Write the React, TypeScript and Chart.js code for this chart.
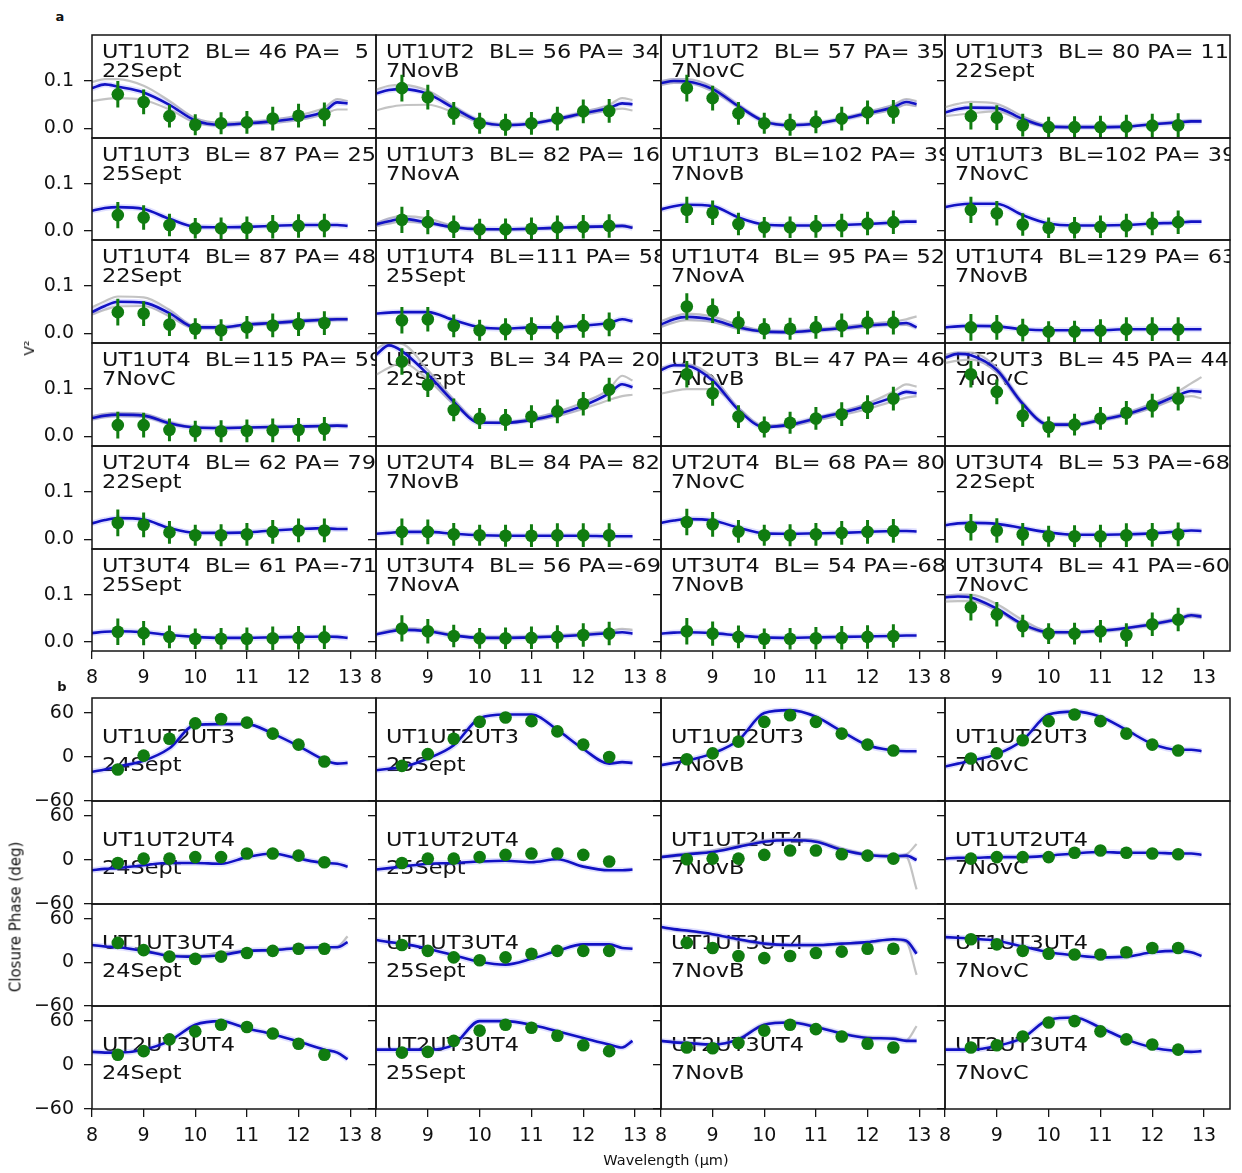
import React, { useEffect, useRef } from "react";
import { Chart, registerables } from "chart.js";

Chart.register(...registerables);

const FONT = "'DejaVu Sans', 'Liberation Sans', sans-serif";

// ---------------- data ----------------
const OBS_X = [8.5, 9, 9.5, 10, 10.5, 11, 11.5, 12, 12.5];
const MODEL_X = [8.0, 8.25, 8.5, 9.0, 9.5, 10.0, 10.5, 11.0, 11.5, 12.0, 12.5, 12.75, 12.95];
const X_TICKS = [8, 9, 10, 11, 12, 13];
const X_TICK_LABELS = ["8", "9", "10", "11", "12", "13"];
const V2_TICKS = [0, 0.1];
const V2_TICK_LABELS = ["0.0", "0.1"];
const CP_TICKS = [-60, 0, 60];
const CP_TICK_LABELS = ["\u221260", "0", "60"];

const V2_BASELINES = [
  "UT1UT2  BL= 46 PA=  5", "UT1UT2  BL= 56 PA= 34", "UT1UT2  BL= 57 PA= 35", "UT1UT3  BL= 80 PA= 11",
  "UT1UT3  BL= 87 PA= 25", "UT1UT3  BL= 82 PA= 16", "UT1UT3  BL=102 PA= 39", "UT1UT3  BL=102 PA= 39",
  "UT1UT4  BL= 87 PA= 48", "UT1UT4  BL=111 PA= 58", "UT1UT4  BL= 95 PA= 52", "UT1UT4  BL=129 PA= 63",
  "UT1UT4  BL=115 PA= 59", "UT2UT3  BL= 34 PA= 20", "UT2UT3  BL= 47 PA= 46", "UT2UT3  BL= 45 PA= 44",
  "UT2UT4  BL= 62 PA= 79", "UT2UT4  BL= 84 PA= 82", "UT2UT4  BL= 68 PA= 80", "UT3UT4  BL= 53 PA=-68",
  "UT3UT4  BL= 61 PA=-71", "UT3UT4  BL= 56 PA=-69", "UT3UT4  BL= 54 PA=-68", "UT3UT4  BL= 41 PA=-60",
];
const V2_NIGHTS = [
  "22Sept", "7NovB", "7NovC", "22Sept",
  "25Sept", "7NovA", "7NovB", "7NovC",
  "22Sept", "25Sept", "7NovA", "7NovB",
  "7NovC", "22Sept", "7NovB", "7NovC",
  "22Sept", "7NovB", "7NovC", "22Sept",
  "25Sept", "7NovA", "7NovB", "7NovC",
];
const V2_OBS = [
  [0.072, 0.056, 0.026, 0.008, 0.011, 0.013, 0.021, 0.027, 0.030],
  [0.085, 0.066, 0.032, 0.011, 0.008, 0.011, 0.021, 0.036, 0.037],
  [0.085, 0.064, 0.032, 0.011, 0.008, 0.014, 0.021, 0.034, 0.035],
  [0.026, 0.023, 0.007, 0.003, 0.003, 0.003, 0.004, 0.006, 0.007],
  [0.033, 0.028, 0.012, 0.005, 0.005, 0.006, 0.008, 0.010, 0.011],
  [0.023, 0.018, 0.008, 0.003, 0.003, 0.004, 0.007, 0.008, 0.010],
  [0.044, 0.038, 0.014, 0.007, 0.007, 0.009, 0.011, 0.015, 0.018],
  [0.044, 0.037, 0.013, 0.006, 0.006, 0.008, 0.011, 0.015, 0.018],
  [0.045, 0.042, 0.019, 0.010, 0.007, 0.013, 0.017, 0.020, 0.022],
  [0.028, 0.030, 0.016, 0.007, 0.009, 0.010, 0.013, 0.016, 0.019],
  [0.057, 0.048, 0.023, 0.010, 0.010, 0.013, 0.017, 0.023, 0.023],
  [0.013, 0.013, 0.007, 0.004, 0.004, 0.006, 0.009, 0.009, 0.009],
  [0.024, 0.024, 0.014, 0.011, 0.011, 0.012, 0.013, 0.014, 0.016],
  [0.158, 0.109, 0.056, 0.038, 0.035, 0.042, 0.053, 0.069, 0.099],
  [0.131, 0.091, 0.042, 0.020, 0.029, 0.038, 0.047, 0.062, 0.080],
  [0.131, 0.094, 0.044, 0.020, 0.025, 0.038, 0.050, 0.065, 0.080],
  [0.035, 0.031, 0.015, 0.009, 0.009, 0.011, 0.016, 0.019, 0.019],
  [0.016, 0.016, 0.011, 0.009, 0.008, 0.008, 0.009, 0.009, 0.009],
  [0.037, 0.032, 0.017, 0.009, 0.009, 0.011, 0.014, 0.016, 0.018],
  [0.026, 0.019, 0.011, 0.007, 0.007, 0.007, 0.009, 0.010, 0.011],
  [0.021, 0.018, 0.010, 0.006, 0.006, 0.006, 0.007, 0.008, 0.009],
  [0.028, 0.022, 0.012, 0.007, 0.007, 0.008, 0.010, 0.014, 0.017],
  [0.022, 0.017, 0.010, 0.006, 0.006, 0.007, 0.008, 0.010, 0.012],
  [0.073, 0.058, 0.033, 0.017, 0.017, 0.022, 0.014, 0.037, 0.047],
];
const V2_ERR = [0.028, 0.026, 0.024, 0.022, 0.023, 0.024, 0.025, 0.025, 0.025];
const V2_MODEL = [
  [0.085, 0.093, 0.088, 0.076, 0.050, 0.017, 0.008, 0.011, 0.015, 0.022, 0.036, 0.055, 0.053],
  [0.074, 0.081, 0.083, 0.073, 0.043, 0.015, 0.007, 0.010, 0.020, 0.032, 0.043, 0.053, 0.051],
  [0.096, 0.100, 0.099, 0.083, 0.047, 0.015, 0.007, 0.010, 0.020, 0.032, 0.045, 0.056, 0.051],
  [0.034, 0.041, 0.044, 0.043, 0.020, 0.004, 0.003, 0.003, 0.004, 0.009, 0.013, 0.015, 0.015],
  [0.042, 0.048, 0.050, 0.046, 0.025, 0.008, 0.007, 0.008, 0.010, 0.012, 0.012, 0.012, 0.010],
  [0.013, 0.020, 0.025, 0.017, 0.007, 0.003, 0.003, 0.004, 0.006, 0.008, 0.009, 0.010, 0.006],
  [0.045, 0.052, 0.055, 0.052, 0.028, 0.013, 0.011, 0.011, 0.012, 0.014, 0.017, 0.019, 0.019],
  [0.050, 0.055, 0.057, 0.057, 0.033, 0.015, 0.011, 0.011, 0.012, 0.015, 0.017, 0.019, 0.019],
  [0.045, 0.058, 0.067, 0.065, 0.043, 0.013, 0.013, 0.019, 0.022, 0.026, 0.029, 0.030, 0.030],
  [0.042, 0.044, 0.045, 0.045, 0.028, 0.013, 0.010, 0.013, 0.013, 0.017, 0.022, 0.030, 0.026],
  [0.019, 0.030, 0.035, 0.029, 0.013, 0.004, 0.003, 0.007, 0.011, 0.017, 0.020, 0.022, 0.013],
  [0.013, 0.015, 0.016, 0.015, 0.009, 0.007, 0.007, 0.007, 0.009, 0.009, 0.009, 0.009, 0.009],
  [0.039, 0.044, 0.046, 0.044, 0.028, 0.019, 0.018, 0.019, 0.020, 0.021, 0.022, 0.023, 0.022],
  [0.172, 0.192, 0.180, 0.131, 0.073, 0.029, 0.029, 0.035, 0.047, 0.065, 0.091, 0.110, 0.104],
  [0.140, 0.150, 0.149, 0.118, 0.056, 0.020, 0.025, 0.038, 0.050, 0.065, 0.083, 0.094, 0.091],
  [0.166, 0.174, 0.171, 0.140, 0.069, 0.025, 0.025, 0.035, 0.047, 0.065, 0.087, 0.096, 0.094],
  [0.034, 0.041, 0.045, 0.042, 0.024, 0.014, 0.014, 0.015, 0.019, 0.022, 0.024, 0.022, 0.022],
  [0.012, 0.014, 0.016, 0.016, 0.012, 0.009, 0.008, 0.008, 0.008, 0.008, 0.007, 0.007, 0.007],
  [0.035, 0.040, 0.043, 0.040, 0.025, 0.013, 0.012, 0.013, 0.014, 0.016, 0.018, 0.018, 0.017],
  [0.030, 0.034, 0.035, 0.033, 0.024, 0.015, 0.010, 0.010, 0.011, 0.013, 0.017, 0.019, 0.018],
  [0.018, 0.021, 0.022, 0.020, 0.014, 0.010, 0.008, 0.008, 0.009, 0.010, 0.011, 0.010, 0.008],
  [0.015, 0.021, 0.025, 0.022, 0.013, 0.008, 0.008, 0.009, 0.011, 0.014, 0.018, 0.020, 0.017],
  [0.017, 0.019, 0.020, 0.018, 0.013, 0.009, 0.008, 0.009, 0.010, 0.011, 0.012, 0.013, 0.013],
  [0.094, 0.096, 0.094, 0.070, 0.037, 0.020, 0.020, 0.023, 0.029, 0.037, 0.048, 0.056, 0.053],
];
const V2_GRAY_HI = [
  [0.098, 0.104, 0.104, 0.090, 0.058, 0.022, 0.012, 0.014, 0.019, 0.028, 0.044, 0.062, 0.058],
  [0.082, 0.090, 0.092, 0.080, 0.047, 0.017, 0.009, 0.012, 0.022, 0.035, 0.050, 0.064, 0.060],
  [0.100, 0.104, 0.104, 0.088, 0.050, 0.017, 0.009, 0.012, 0.022, 0.035, 0.050, 0.062, 0.058],
  [0.045, 0.052, 0.056, 0.052, 0.026, 0.006, 0.004, 0.004, 0.005, 0.010, 0.015, 0.017, 0.017],
  null,
  [0.016, 0.026, 0.031, 0.026, 0.010, 0.004, 0.003, 0.005, 0.007, 0.009, 0.010, 0.011, 0.008],
  null, null,
  [0.055, 0.068, 0.078, 0.076, 0.050, 0.015, 0.014, 0.020, 0.024, 0.028, 0.031, 0.032, 0.032],
  null,
  [0.026, 0.036, 0.042, 0.036, 0.018, 0.006, 0.005, 0.009, 0.014, 0.020, 0.025, 0.030, 0.036],
  null,
  [0.043, 0.048, 0.050, 0.048, 0.031, 0.020, 0.019, 0.020, 0.021, 0.022, 0.023, 0.024, 0.023],
  [0.185, 0.197, 0.195, 0.140, 0.078, 0.032, 0.030, 0.038, 0.052, 0.072, 0.100, 0.128, 0.118],
  [0.145, 0.150, 0.152, 0.125, 0.060, 0.023, 0.027, 0.040, 0.053, 0.070, 0.095, 0.110, 0.105],
  [0.172, 0.177, 0.177, 0.145, 0.072, 0.027, 0.027, 0.037, 0.050, 0.070, 0.095, 0.112, 0.125],
  null, null, null, null, null,
  [0.017, 0.024, 0.028, 0.025, 0.015, 0.010, 0.010, 0.011, 0.013, 0.017, 0.022, 0.027, 0.025],
  null,
  [0.097, 0.100, 0.100, 0.080, 0.046, 0.022, 0.021, 0.024, 0.030, 0.039, 0.050, 0.058, 0.056],
];
const V2_GRAY_LO = [
  [0.058, 0.062, 0.064, 0.060, 0.040, 0.012, 0.006, 0.009, 0.012, 0.018, 0.030, 0.040, 0.040],
  [0.038, 0.045, 0.049, 0.050, 0.034, 0.013, 0.006, 0.009, 0.018, 0.029, 0.038, 0.042, 0.038],
  [0.092, 0.096, 0.096, 0.078, 0.045, 0.013, 0.006, 0.009, 0.018, 0.029, 0.040, 0.050, 0.047],
  [0.026, 0.029, 0.032, 0.036, 0.016, 0.003, 0.002, 0.002, 0.004, 0.008, 0.012, 0.014, 0.014],
  null,
  [0.010, 0.015, 0.019, 0.015, 0.006, 0.002, 0.002, 0.003, 0.005, 0.007, 0.008, 0.009, 0.005],
  null, null,
  [0.040, 0.050, 0.057, 0.058, 0.036, 0.011, 0.011, 0.017, 0.020, 0.024, 0.027, 0.028, 0.028],
  null,
  [0.014, 0.023, 0.028, 0.024, 0.010, 0.003, 0.002, 0.005, 0.009, 0.014, 0.018, 0.018, 0.012],
  null,
  [0.036, 0.041, 0.043, 0.041, 0.026, 0.018, 0.017, 0.018, 0.019, 0.020, 0.021, 0.022, 0.021],
  [0.130, 0.145, 0.155, 0.120, 0.068, 0.030, 0.028, 0.033, 0.043, 0.058, 0.077, 0.085, 0.088],
  [0.090, 0.096, 0.100, 0.100, 0.060, 0.020, 0.022, 0.034, 0.045, 0.058, 0.074, 0.082, 0.085],
  [0.155, 0.160, 0.162, 0.135, 0.066, 0.023, 0.023, 0.033, 0.044, 0.060, 0.080, 0.085, 0.080],
  null, null, null, null, null, null, null,
  [0.085, 0.086, 0.086, 0.066, 0.034, 0.018, 0.018, 0.021, 0.027, 0.035, 0.046, 0.053, 0.050],
];

const CP_TRIANGLES = ["UT1UT2UT3", "UT1UT2UT4", "UT1UT3UT4", "UT2UT3UT4"];
const CP_NIGHTS = ["24Sept", "25Sept", "7NovB", "7NovC"];
const CP_OBS = [
  [-17, 2, 25, 46, 52, 47, 32, 17, -6],
  [-12, 4, 25, 48, 54, 49, 35, 17, 0],
  [-3, 5, 21, 48, 57, 48, 32, 17, 9],
  [-2, 5, 23, 49, 58, 49, 32, 17, 9],
  [-4, 2, 2, 4, 4, 9, 9, 6, -3],
  [-4, 2, 2, 4, 7, 9, 9, 7, -2],
  [1, 2, 2, 7, 13, 13, 8, 6, 2],
  [2, 4, 4, 4, 10, 13, 10, 9, 8],
  [27, 17, 8, 5, 8, 13, 16, 19, 19],
  [24, 16, 7, 3, 7, 12, 16, 16, 16],
  [27, 20, 9, 6, 9, 13, 15, 19, 19],
  [32, 25, 16, 12, 11, 11, 14, 20, 20],
  [14, 19, 35, 46, 55, 52, 43, 29, 14],
  [17, 18, 33, 47, 55, 51, 40, 27, 19],
  [24, 23, 30, 47, 55, 49, 39, 29, 24],
  [24, 27, 39, 58, 60, 46, 35, 28, 21],
];
const CP_MODEL = [
  [-20, -17, -13, -5, 12, 44, 45, 45, 32, 15, -4, -9, -8],
  [-18, -16, -14, -2, 16, 53, 58, 58, 37, 11, -9, -7, -8],
  [-11, -8, -5, 5, 23, 60, 64, 55, 35, 16, 9, 8, 8],
  [-13, -9, -5, 4, 23, 58, 62, 55, 37, 18, 10, 10, 8],
  [-14, -12, -11, -7, -4, -4, -5, 4, 9, 2, -4, -5, -9],
  [-13, -11, -9, -5, -4, -2, -1, -3, 1, -9, -14, -14, -13],
  [4, 6, 8, 11, 18, 25, 27, 25, 14, 7, 5, 6, 0],
  [2, 3, 3, 4, 4, 6, 9, 11, 10, 10, 9, 9, 7],
  [24, 22, 21, 16, 9, 8, 10, 16, 17, 20, 21, 21, 28],
  [31, 28, 26, 19, 10, 1, -3, 5, 16, 25, 25, 20, 19],
  [49, 46, 44, 39, 32, 26, 24, 24, 26, 28, 32, 30, 12],
  [35, 34, 33, 30, 22, 14, 10, 7, 8, 14, 16, 14, 9],
  [18, 17, 17, 21, 33, 55, 60, 50, 42, 32, 21, 17, 8],
  [21, 21, 21, 21, 28, 60, 60, 55, 46, 37, 28, 24, 33],
  [33, 31, 30, 28, 35, 55, 58, 52, 43, 37, 36, 33, 33],
  [21, 21, 21, 26, 37, 62, 65, 51, 35, 24, 19, 18, 19],
];
const CP_GRAY_HI = [
  null, null, null, null, null, null,
  [5, 7, 9, 13, 20, 27, 29, 27, 16, 8, 6, 8, 22],
  null,
  [24, 22, 21, 17, 10, 9, 14, 16, 18, 20, 21, 22, 36],
  null,
  [48, 46, 44, 39, 32, 26, 24, 24, 26, 28, 32, 30, 14],
  null, null, null,
  [33, 32, 31, 28, 36, 56, 59, 53, 44, 38, 37, 34, 53],
  null,
];
const CP_GRAY_LO = [
  null, null, null, null, null, null,
  [4, 5, 7, 11, 18, 25, 27, 25, 14, 6, 5, 4, -40],
  null, null, null,
  [48, 45, 43, 38, 31, 25, 23, 23, 25, 27, 31, 28, -17],
  null, null, null, null, null,
];

// ---------------- layout & style ----------------
const COL_EDGES = [92, 376, 661, 945, 1230];
const ROW_A_EDGES = [35, 138, 240, 343, 446, 549, 651];
const ROW_B_EDGES = [698, 801, 904, 1006, 1109];
const V2_RANGE = [-0.02, 0.197];
const CP_RANGE = [-60, 80.6];

const GREEN = "#107c10";
const BLUE = "#1212c4";
const HALO = "rgba(100,100,255,0.2)";
const GRAY = "rgba(188,188,188,0.9)";
const AXIS = "#151515";
const TXT = "#111111";

type Line = { text: string; dy: number };

function buildDatasets(obs: number[], err: number[] | null, model: number[], hi: number[] | null, lo: number[] | null) {
  const pts = OBS_X.map((x, i) => ({ x, y: obs[i] }));
  const mdl = MODEL_X.map((x, i) => ({ x, y: model[i] }));
  const ds: any[] = [
    { data: pts, showLine: false, pointRadius: 6.3, pointBackgroundColor: GREEN, pointBorderColor: GREEN, pointBorderWidth: 0, clip: 0 },
  ];
  if (err) {
    ds.push({
      data: OBS_X.flatMap((x, i) => [{ x, y: obs[i] - err[i] }, { x, y: obs[i] + err[i] }, { x, y: null }]),
      borderColor: GREEN, borderWidth: 3, pointRadius: 0, spanGaps: false, clip: 0,
    });
  }
  ds.push({ data: mdl, borderColor: BLUE, borderWidth: 2.6, pointRadius: 0, cubicInterpolationMode: "monotone", borderJoinStyle: "round", clip: 0 });
  ds.push({ data: mdl, borderColor: HALO, borderWidth: 6, pointRadius: 0, cubicInterpolationMode: "monotone", borderJoinStyle: "round", clip: 0 });
  for (const g of [hi, lo]) {
    if (g) ds.push({ data: MODEL_X.map((x, i) => ({ x, y: g[i] })), borderColor: GRAY, borderWidth: 2.2, pointRadius: 0, cubicInterpolationMode: "monotone", clip: 0 });
  }
  return ds;
}

type PanelProps = {
  col: number; top: number; bottom: number; lastRow: boolean;
  range: number[]; yTicks: number[]; yLabels: string[];
  lines: Line[]; datasets: any[];
};

function Panel(p: PanelProps) {
  const ref = useRef<HTMLCanvasElement>(null);
  const padL = p.col === 0 ? COL_EDGES[0] : 8;
  const padT = 3, padR = 3;
  const padB = p.lastRow ? 46 : 14;
  const plotW = COL_EDGES[p.col + 1] - COL_EDGES[p.col];
  const plotH = p.bottom - p.top;
  const W = padL + plotW + padR;
  const H = padT + plotH + padB;
  const left = COL_EDGES[p.col] - padL;
  const top = p.top - padT;

  useEffect(() => {
    if (!ref.current) return;
    const deco = {
      id: "panelDeco",
      beforeDatasetsDraw(chart: any) {
        const { ctx, chartArea: a } = chart;
        ctx.save();
        ctx.beginPath();
        ctx.rect(a.left, a.top, a.right - a.left, a.bottom - a.top);
        ctx.clip();
        ctx.fillStyle = TXT;
        ctx.font = `20px ${FONT}`;
        ctx.textAlign = "left";
        ctx.textBaseline = "alphabetic";
        for (const l of p.lines) {
          ctx.save();
          ctx.translate(a.left + 10, a.top + l.dy);
          ctx.scale(1.12, 1);
          ctx.fillText(l.text, 0, 0);
          ctx.restore();
        }
        ctx.restore();
      },
      afterDraw(chart: any) {
        const { ctx, chartArea: a } = chart;
        ctx.save();
        ctx.strokeStyle = AXIS;
        ctx.lineWidth = 1.5;
        ctx.strokeRect(a.left, a.top, a.right - a.left, a.bottom - a.top);
        ctx.restore();
      },
    };
    const gridOpts = { display: true, drawOnChartArea: false, drawTicks: true, tickLength: 8, color: AXIS, lineWidth: 1.3 };
    const chart = new Chart(ref.current, {
      type: "line",
      data: { datasets: p.datasets },
      options: {
        animation: false,
        responsive: false,
        devicePixelRatio: 1,
        events: [],
        layout: { autoPadding: false, padding: { left: 0, top: padT, right: padR, bottom: p.lastRow ? 0 : padB } },
        plugins: { legend: { display: false }, tooltip: { enabled: false }, title: { display: false } },
        scales: {
          x: {
            type: "linear", min: 8, max: 13.5, bounds: "data", display: p.lastRow,
            afterBuildTicks: (s: any) => { s.ticks = X_TICKS.map((v) => ({ value: v })); },
            afterFit: (s: any) => { s.height = p.lastRow ? padB : 0; s.paddingLeft = 0; s.paddingRight = 0; },
            grid: gridOpts,
            border: { display: false },
            ticks: {
              font: { family: FONT, size: 19 }, color: TXT, padding: 8, maxRotation: 0, minRotation: 0, autoSkip: false,
              callback: (_v: any, i: number) => X_TICK_LABELS[i],
            },
          },
          y: {
            type: "linear", min: p.range[0], max: p.range[1], bounds: "data", display: true,
            afterBuildTicks: (s: any) => { s.ticks = p.yTicks.map((v) => ({ value: v })); },
            afterFit: (s: any) => { s.width = padL; s.paddingTop = 0; s.paddingBottom = 0; },
            grid: gridOpts,
            border: { display: false },
            ticks: {
              display: p.col === 0,
              font: { family: FONT, size: 19 }, color: TXT, padding: 10, autoSkip: false,
              callback: (_v: any, i: number) => p.yLabels[i],
            },
          },
        },
      } as any,
      plugins: [deco],
    });
    return () => chart.destroy();
  }, []);

  return (
    <canvas
      ref={ref}
      width={W}
      height={H}
      style={{ position: "absolute", left, top, width: W, height: H }}
    />
  );
}

const textStyle = (size: number, bold = false): React.CSSProperties => ({
  position: "absolute",
  fontFamily: FONT,
  fontSize: size,
  fontWeight: bold ? "bold" : "normal",
  color: TXT,
  whiteSpace: "nowrap",
  lineHeight: 1,
});

export default function App() {
  const panels: JSX.Element[] = [];
  for (let r = 0; r < 6; r++) {
    for (let c = 0; c < 4; c++) {
      const k = r * 4 + c;
      panels.push(
        <Panel
          key={`a${k}`}
          col={c}
          top={ROW_A_EDGES[r]}
          bottom={ROW_A_EDGES[r + 1]}
          lastRow={r === 5}
          range={V2_RANGE}
          yTicks={V2_TICKS}
          yLabels={V2_TICK_LABELS}
          lines={[{ text: V2_BASELINES[k], dy: 23 }, { text: V2_NIGHTS[k], dy: 41.5 }]}
          datasets={buildDatasets(V2_OBS[k], V2_ERR, V2_MODEL[k], V2_GRAY_HI[k], V2_GRAY_LO[k])}
        />
      );
    }
  }
  for (let r = 0; r < 4; r++) {
    for (let c = 0; c < 4; c++) {
      const k = r * 4 + c;
      panels.push(
        <Panel
          key={`b${k}`}
          col={c}
          top={ROW_B_EDGES[r]}
          bottom={ROW_B_EDGES[r + 1]}
          lastRow={r === 3}
          range={CP_RANGE}
          yTicks={CP_TICKS}
          yLabels={CP_TICK_LABELS}
          lines={[{ text: CP_TRIANGLES[r], dy: 45 }, { text: CP_NIGHTS[c], dy: 73 }]}
          datasets={buildDatasets(CP_OBS[k], null, CP_MODEL[k], CP_GRAY_HI[k], CP_GRAY_LO[k])}
        />
      );
    }
  }

  return (
    <div style={{ position: "absolute", left: 0, top: 0, width: 1242, height: 1173, background: "#ffffff", overflow: "hidden" }}>
      {panels}
      <div style={{ ...textStyle(13, true), left: 60, top: 16, transform: "translate(-50%,-50%)" }}>a</div>
      <div style={{ ...textStyle(13, true), left: 62, top: 686, transform: "translate(-50%,-50%)" }}>b</div>
      <div style={{ ...textStyle(14), left: 29, top: 348, transform: "translate(-50%,-50%) rotate(-90deg)" }}>V²</div>
      <div style={{ ...textStyle(15), left: 16, top: 917, transform: "translate(-50%,-50%) rotate(-90deg)" }}>Closure Phase (deg)</div>
      <div style={{ ...textStyle(14.5), left: 666, top: 1160, transform: "translate(-50%,-50%)" }}>Wavelength (μm)</div>
    </div>
  );
}
